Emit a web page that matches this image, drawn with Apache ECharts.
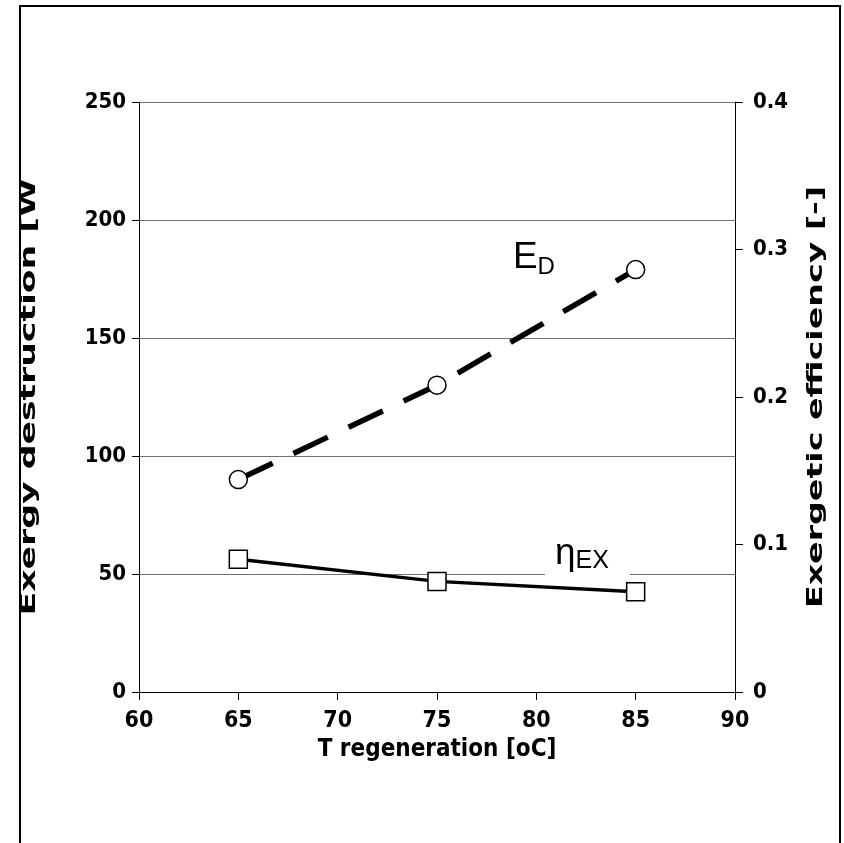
<!DOCTYPE html>
<html><head><meta charset="utf-8">
<script src="https://cdn.jsdelivr.net/npm/echarts@6/dist/echarts.min.js"></script>
<style>html,body{margin:0;padding:0;background:#fff}#c{width:844px;height:843px}</style>
</head><body><div id="c"></div>
<script>
const temperatures = [65, 75, 85];
const exergyDestruction = [90, 130, 179];
const exergeticEfficiency = [0.090, 0.075, 0.068];
const xTicks = [60, 65, 70, 75, 80, 85, 90];
const leftTicks = [0, 50, 100, 150, 200, 250];
const rightTicks = [0, 0.1, 0.2, 0.3, 0.4];
const leftTitle = 'Exergy destruction [W';
const rightTitle = 'Exergetic efficiency [-]';
const xTitle = 'T regeneration [oC]';

const narrow = "'Liberation Sans Narrow', 'DejaVu Sans Condensed', 'Liberation Sans', sans-serif";
const regular = "'Liberation Sans', Arial, sans-serif";

const chart = echarts.init(document.getElementById('c'));
const edData = temperatures.map((t, i) => [t, exergyDestruction[i]]);
const etaData = temperatures.map((t, i) => [t, exergeticEfficiency[i]]);
const last = temperatures.length - 1;

edData[last] = {
  value: edData[last],
  label: {
    show: true, position: 'left', offset: [-66, -12],
    formatter: '{a|E}{b|D}',
    rich: {
      a: { fontFamily: regular, fontSize: 37, color: '#000', lineHeight: 44, verticalAlign: 'middle' },
      b: { fontFamily: regular, fontSize: 24, color: '#000', lineHeight: 24, verticalAlign: 'bottom' }
    }
  }
};
etaData[last] = {
  value: etaData[last],
  label: {
    show: true, position: 'left', offset: [9, -34],
    backgroundColor: '#fff', padding: [0, 21, 8, 10],
    formatter: '{a|η}{b|EX}',
    rich: {
      a: { fontFamily: regular, fontSize: 37, color: '#000', lineHeight: 40, verticalAlign: 'middle' },
      b: { fontFamily: regular, fontSize: 25, color: '#000', lineHeight: 26, verticalAlign: 'bottom' }
    }
  }
};

const gridLeft = 139, gridRight = 109, gridTop = 102, gridBottom = 151;
const midY = gridTop + (843 - gridTop - gridBottom) / 2;

const titleStyle = { fontFamily: narrow, fontWeight: 'bold', fontSize: 22, fill: '#000', align: 'center', verticalAlign: 'middle' };

chart.setOption({
  animation: false,
  backgroundColor: '#fff',
  grid: { left: gridLeft, right: gridRight, top: gridTop, bottom: gridBottom, containLabel: false },
  graphic: [{
    type: 'rect', shape: { x: 20, y: 6, width: 820, height: 860 },
    style: { fill: 'none', stroke: '#000', lineWidth: 2 }, silent: true, z: 100
  }, {
    type: 'text', x: 29, y: midY, rotation: Math.PI / 2, scaleX: 1.75, scaleY: 1,
    style: Object.assign({ text: leftTitle }, titleStyle), silent: true
  }, {
    type: 'text', x: 816, y: midY, rotation: Math.PI / 2, scaleX: 1.68, scaleY: 1,
    style: Object.assign({ text: rightTitle }, titleStyle), silent: true
  }],
  xAxis: {
    type: 'value', min: xTicks[0], max: xTicks[xTicks.length - 1], interval: 5,
    name: xTitle, nameLocation: 'middle', nameGap: 37,
    nameTextStyle: { fontFamily: narrow, fontWeight: 'bold', fontSize: 24, color: '#000' },
    axisLine: { show: true, lineStyle: { color: '#000', width: 1 } },
    axisTick: { show: true, inside: false, length: 8, lineStyle: { color: '#000' } },
    axisLabel: { margin: 18, fontFamily: narrow, fontWeight: 'bold', fontSize: 23, color: '#000' },
    splitLine: { show: false }
  },
  yAxis: [{
    type: 'value', min: leftTicks[0], max: leftTicks[leftTicks.length - 1], interval: 50,
    axisLine: { show: true, lineStyle: { color: '#000', width: 1 } },
    axisTick: { show: true, length: 7, lineStyle: { color: '#000' } },
    axisLabel: { margin: 13, fontFamily: narrow, fontWeight: 'bold', fontSize: 22, color: '#000' },
    splitLine: { show: true, lineStyle: { color: '#707070', width: 1 } }
  }, {
    type: 'value', position: 'right', min: rightTicks[0], max: rightTicks[rightTicks.length - 1], interval: 0.1,
    axisLine: { show: true, lineStyle: { color: '#000', width: 1 } },
    axisTick: { show: true, length: 8, lineStyle: { color: '#000' } },
    axisLabel: { margin: 18, fontFamily: narrow, fontWeight: 'bold', fontSize: 22, color: '#000' },
    splitLine: { show: false }
  }],
  series: [{
    name: 'ED', type: 'line', yAxisIndex: 0, data: edData,
    symbol: 'circle', symbolSize: 18,
    itemStyle: { color: '#fff', borderColor: '#000', borderWidth: 1.5 },
    lineStyle: { color: '#000', width: 5.5, type: [38, 23], cap: 'butt' },
    z: 3
  }, {
    name: 'eta', type: 'line', yAxisIndex: 1, data: etaData,
    symbol: 'rect', symbolSize: 18,
    itemStyle: { color: '#fff', borderColor: '#000', borderWidth: 1.5 },
    lineStyle: { color: '#000', width: 3.5 },
    z: 3
  }]
});
</script></body></html>
